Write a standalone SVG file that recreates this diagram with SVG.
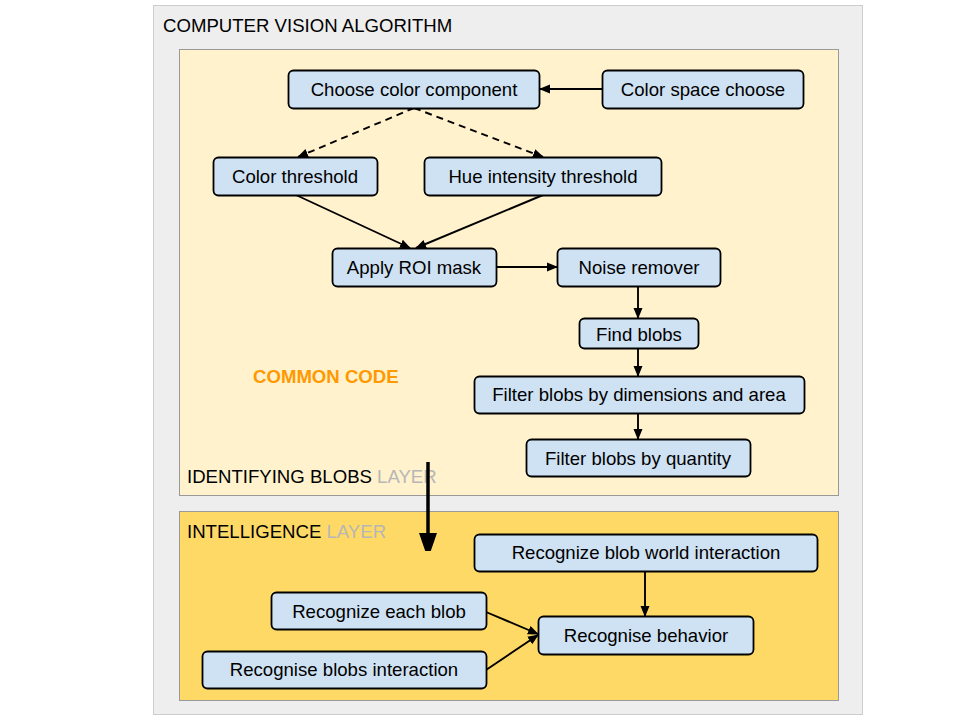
<svg xmlns="http://www.w3.org/2000/svg" width="960" height="720" viewBox="0 0 960 720">
<defs>
<marker id="ah" markerWidth="11" markerHeight="11" refX="10" refY="5.5" orient="auto" markerUnits="userSpaceOnUse"><path d="M0,1 L11,5.5 L0,10 Z" fill="#000"/></marker>
<marker id="big" markerWidth="18" markerHeight="26" refX="17" refY="9" orient="auto" markerUnits="userSpaceOnUse"><path d="M0,0 L26,9 L0,18 Z" fill="#000"/></marker>
<style>
.n rect{fill:#cfe2f3;stroke:#000;stroke-width:1.8}
.n text{font-family:"Liberation Sans",Arial,sans-serif;font-size:18.6px;fill:#000;text-anchor:middle}
.c line{stroke:#000;stroke-width:1.9;marker-end:url(#ah)}
.lbl{font-family:"Liberation Sans",Arial,sans-serif;font-size:18.6px}
</style>
</defs>
<rect width="960" height="720" fill="#fff"/>
<g id="outer">
<rect x="153.5" y="5.5" width="709" height="709" fill="#eeeeee" stroke="#cccccc"/>
<text class="lbl" x="163" y="32" fill="#000">COMPUTER VISION ALGORITHM</text>
</g>
<g id="identifying-layer">
<rect x="179.5" y="49.5" width="659" height="446" fill="#fff2cc" stroke="#999999"/>
<text class="lbl" x="253" y="383" fill="#ff9900" font-weight="bold">COMMON CODE</text>
<text class="lbl" x="187" y="483" fill="#000">IDENTIFYING BLOBS <tspan fill="#b7b7b7">LAYER</tspan></text>
</g>
<g id="intelligence-layer">
<rect x="179.5" y="511.5" width="659" height="189" fill="#ffd966" stroke="#999999"/>
<text class="lbl" x="187" y="538" fill="#000">INTELLIGENCE <tspan fill="#b7b7b7">LAYER</tspan></text>
</g>
<g id="connectors" class="c">
<line x1="602" y1="89" x2="540" y2="89"/>
<line x1="414" y1="108" x2="298" y2="157" stroke-dasharray="7,5"/>
<line x1="414" y1="108" x2="543" y2="157" stroke-dasharray="7,5"/>
<line x1="296" y1="195" x2="410" y2="248"/>
<line x1="543" y1="195" x2="416" y2="248"/>
<line x1="496" y1="267" x2="557" y2="267"/>
<line x1="638" y1="286" x2="638" y2="318"/>
<line x1="638" y1="348" x2="638" y2="376"/>
<line x1="638" y1="413" x2="638" y2="439"/>
<line x1="428" y1="462" x2="428" y2="550" style="stroke-width:3.5;marker-end:url(#big)"/>
<line x1="645" y1="571" x2="645" y2="616"/>
<line x1="486" y1="612" x2="538" y2="634"/>
<line x1="486" y1="670" x2="538" y2="635"/>
</g>
<g id="choose-color-component" class="n"><rect x="288.5" y="70.5" width="251" height="38" rx="5"/><text x="414" y="96">Choose color component</text></g>
<g id="color-space-choose" class="n"><rect x="602.5" y="70.5" width="201" height="38" rx="5"/><text x="703" y="96">Color space choose</text></g>
<g id="color-threshold" class="n"><rect x="213.5" y="157.5" width="164" height="38" rx="5"/><text x="295" y="183">Color threshold</text></g>
<g id="hue-intensity-threshold" class="n"><rect x="424.5" y="157.5" width="237" height="38" rx="5"/><text x="543" y="183">Hue intensity threshold</text></g>
<g id="apply-roi-mask" class="n"><rect x="332.5" y="248.5" width="164" height="38" rx="5"/><text x="414" y="274">Apply ROI mask</text></g>
<g id="noise-remover" class="n"><rect x="557.5" y="248.5" width="163" height="38" rx="5"/><text x="639" y="274">Noise remover</text></g>
<g id="find-blobs" class="n"><rect x="579.5" y="318.5" width="119" height="30" rx="5"/><text x="639" y="341">Find blobs</text></g>
<g id="filter-dimensions" class="n"><rect x="474.5" y="376.5" width="330" height="37" rx="5"/><text x="639" y="401">Filter blobs by dimensions and area</text></g>
<g id="filter-quantity" class="n"><rect x="526.5" y="439.5" width="224" height="37" rx="5"/><text x="638" y="465">Filter blobs by quantity</text></g>
<g id="recognize-world" class="n"><rect x="474.5" y="534.5" width="343" height="37" rx="5"/><text x="646" y="559">Recognize blob world interaction</text></g>
<g id="recognize-each" class="n"><rect x="271.5" y="592.5" width="215" height="37" rx="5"/><text x="379" y="618">Recognize each blob</text></g>
<g id="recognise-behavior" class="n"><rect x="538.5" y="616.5" width="215" height="38" rx="5"/><text x="646" y="642">Recognise behavior</text></g>
<g id="recognise-interaction" class="n"><rect x="202.5" y="651.5" width="284" height="37" rx="5"/><text x="344" y="676">Recognise blobs interaction</text></g>
</svg>
